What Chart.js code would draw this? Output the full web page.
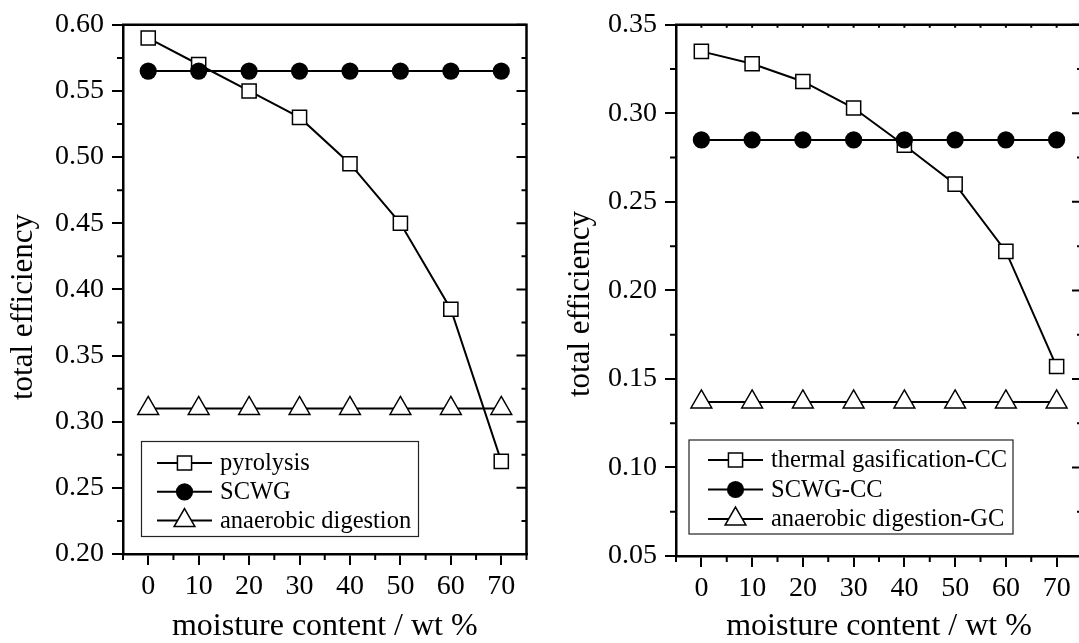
<!DOCTYPE html>
<html>
<head>
<meta charset="utf-8">
<title>total efficiency vs moisture content</title>
<script src="https://cdn.jsdelivr.net/npm/chart.js@4.4.0/dist/chart.umd.min.js"></script>
<style>
    html, body { margin: 0; padding: 0; background: #fff; overflow: hidden; }
    #wrap { position: relative; width: 1079px; height: 643px; overflow: hidden; }
    #left { position: absolute; left: 0; top: 0; }
    #right { position: absolute; left: 540px; top: 0; }
</style>
</head>
<body>
<div id="wrap">
    <canvas id="left" width="540" height="643"></canvas>
    <canvas id="right" width="560" height="643"></canvas>
</div>
<script>
const moisture = [0, 10, 20, 30, 40, 50, 60, 70];

// left panel
const pyrolysis = [0.590, 0.570, 0.550, 0.530, 0.495, 0.450, 0.385, 0.270];
const scwg = [0.565, 0.565, 0.565, 0.565, 0.565, 0.565, 0.565, 0.565];
const anaerobic = [0.310, 0.310, 0.310, 0.310, 0.310, 0.310, 0.310, 0.310];

// right panel
const thermalCC = [0.335, 0.328, 0.318, 0.303, 0.282, 0.260, 0.222, 0.157];
const scwgCC = [0.285, 0.285, 0.285, 0.285, 0.285, 0.285, 0.285, 0.285];
const anaerobicGC = [0.137, 0.137, 0.137, 0.137, 0.137, 0.137, 0.137, 0.137];

// axis ticks
const xTicks = [0, 10, 20, 30, 40, 50, 60, 70];
const xMinor = [-5, 5, 15, 25, 35, 45, 55, 65, 75];
const leftYTicks = [0.20, 0.25, 0.30, 0.35, 0.40, 0.45, 0.50, 0.55, 0.60];
const leftYMinor = [0.225, 0.275, 0.325, 0.375, 0.425, 0.475, 0.525, 0.575];
const rightYTicks = [0.05, 0.10, 0.15, 0.20, 0.25, 0.30, 0.35];
const rightYMinor = [0.075, 0.125, 0.175, 0.225, 0.275, 0.325];

const serif = '"Liberation Serif", "Times New Roman", serif';
const tickFont = { family: serif, size: 28 };
const titleFont = { family: serif, size: 32, lineHeight: 1 };

function toPoints(ys) {
    return moisture.map((m, i) => ({ x: m, y: ys[i] }));
}

function squareSet(label, ys) {
    return {
        label: label, data: toPoints(ys), order: 2,
        borderColor: '#000', borderWidth: 2,
        pointStyle: 'rect', pointRadius: 10, pointBorderWidth: 1.5,
        pointBackgroundColor: '#fff', pointBorderColor: '#000'
    };
}

function circleSet(label, ys) {
    return {
        label: label, data: toPoints(ys), order: 0,
        borderColor: '#000', borderWidth: 2,
        pointStyle: 'circle', pointRadius: 8.6, pointBorderWidth: 0,
        pointBackgroundColor: '#000', pointBorderColor: '#000'
    };
}

function triangleSet(label, ys) {
    return {
        label: label, data: toPoints(ys), order: 1,
        borderColor: '#000', borderWidth: 2,
        pointStyle: 'triangle', pointRadius: 12, pointBorderWidth: 1.5,
        pointBackgroundColor: '#fff', pointBorderColor: '#000'
    };
}

// frame, minor ticks, y title and boxed legend
const framePlugin = {
    id: 'frame',
    afterDraw(chart, args, o) {
        const { ctx, chartArea: a } = chart;
        const x = chart.scales.x, y = chart.scales.y;
        ctx.save();
        ctx.strokeStyle = '#000';
        ctx.lineWidth = 2.5;
        ctx.beginPath();
        ctx.moveTo(a.left - 1, a.top);
        ctx.lineTo(a.right, a.top);
        ctx.lineTo(a.right, a.bottom + 1);
        ctx.stroke();

        ctx.lineWidth = 2;
        ctx.beginPath();
        o.minorX.forEach(v => {
            const px = x.getPixelForValue(v);
            ctx.moveTo(px, a.bottom);
            ctx.lineTo(px, a.bottom + 6);
        });
        o.minorY.forEach(v => {
            const py = y.getPixelForValue(v);
            ctx.moveTo(a.left, py);
            ctx.lineTo(a.left - 6, py);
            ctx.moveTo(a.right, py);
            ctx.lineTo(a.right - 5, py);
        });
        o.majorY.forEach(v => {
            const py = y.getPixelForValue(v);
            ctx.moveTo(a.right, py);
            ctx.lineTo(a.right - 10, py);
        });
        if (o.topTicks) {
            xTicks.concat(xMinor).forEach(v => {
                const px = x.getPixelForValue(v);
                ctx.moveTo(px, a.top);
                ctx.lineTo(px, a.top + 3);
            });
        }
        ctx.stroke();

        // y axis title
        ctx.fillStyle = '#000';
        ctx.font = '31px ' + serif;
        ctx.textAlign = 'center';
        ctx.textBaseline = 'middle';
        ctx.save();
        ctx.translate(o.yTitleX, o.yTitleY);
        ctx.rotate(-Math.PI / 2);
        ctx.fillText(o.yTitle, 0, 0);
        ctx.restore();

        // legend
        const L = o.legend;
        ctx.lineWidth = 1.2;
        ctx.strokeStyle = '#222';
        ctx.strokeRect(L.x, L.y, L.w, L.h);
        ctx.font = '24.5px ' + serif;
        ctx.textAlign = 'left';
        chart.data.datasets.forEach((d, i) => {
            const cy = L.row0 + i * L.gap;
            ctx.strokeStyle = '#000';
            ctx.lineWidth = 2;
            ctx.beginPath();
            ctx.moveTo(L.line0, cy);
            ctx.lineTo(L.line1, cy);
            ctx.stroke();
            ctx.fillStyle = d.pointBackgroundColor;
            ctx.strokeStyle = d.pointBorderColor;
            ctx.lineWidth = d.pointBorderWidth;
            Chart.helpers.drawPoint(ctx, {
                pointStyle: d.pointStyle, radius: d.pointRadius,
                borderWidth: d.pointBorderWidth, rotation: 0
            }, (L.line0 + L.line1) / 2, cy);
            ctx.fillStyle = '#000';
            ctx.fillText(d.label, L.text, cy + 1);
        });
        ctx.restore();
    }
};

function axisStyle() {
    return {
        grid: { drawOnChartArea: false, drawTicks: true, tickLength: 11, color: '#000', lineWidth: 2 },
        border: { display: true, color: '#000', width: 2.5 }
    };
}

function makeOptions(p) {
    return {
        responsive: false,
        animation: false,
        layout: { padding: { left: 0, right: p.padRight, top: p.padTop, bottom: 0 } },
        scales: {
            x: {
                type: 'linear', min: -5, max: 75,
                afterBuildTicks: s => { s.ticks = xTicks.map(v => ({ value: v })); },
                afterFit: s => { s.height = p.xHeight; },
                ...axisStyle(),
                ticks: { color: '#000', font: tickFont, padding: 5, maxRotation: 0, autoSkip: false },
                title: { display: true, text: 'moisture content / wt %', color: '#000', font: titleFont, padding: { top: 0, bottom: 0 } }
            },
            y: {
                type: 'linear', min: p.yTicks[0], max: p.yTicks[p.yTicks.length - 1],
                afterBuildTicks: s => { s.ticks = p.yTicks.map(v => ({ value: v })); },
                afterFit: s => { s.width = p.yWidth; },
                ...axisStyle(),
                ticks: { color: '#000', font: tickFont, padding: 8, callback: v => v.toFixed(2) }
            }
        },
        plugins: {
            legend: { display: false },
            tooltip: { enabled: false },
            frame: {
                minorX: xMinor, minorY: p.yMinor, majorY: p.yTicks, topTicks: p.topTicks,
                yTitle: 'total efficiency', yTitleX: p.yTitleX, yTitleY: p.yTitleY,
                legend: p.legend
            }
        }
    };
}

new Chart(document.getElementById('left'), {
    type: 'line',
    data: {
        datasets: [
            squareSet('pyrolysis', pyrolysis),
            circleSet('SCWG', scwg),
            triangleSet('anaerobic digestion', anaerobic)
        ]
    },
    options: makeOptions({
        padRight: 13, padTop: 21, xHeight: 89, yWidth: 123,
        yTicks: leftYTicks, yMinor: leftYMinor, topTicks: false,
        yTitleX: 24, yTitleY: 307,
        legend: { x: 141.5, y: 441.5, w: 277, h: 95, row0: 463, gap: 28.8, line0: 157, line1: 212, text: 220 }
    }),
    plugins: [framePlugin]
});

new Chart(document.getElementById('right'), {
    type: 'line',
    data: {
        datasets: [
            squareSet('thermal gasification-CC', thermalCC),
            circleSet('SCWG-CC', scwgCC),
            triangleSet('anaerobic digestion-GC', anaerobicGC)
        ]
    },
    options: makeOptions({
        padRight: 18, padTop: 20, xHeight: 87, yWidth: 136,
        yTicks: rightYTicks, yMinor: rightYMinor, topTicks: true,
        yTitleX: 41, yTitleY: 304,
        legend: { x: 149, y: 440, w: 324, h: 94, row0: 460, gap: 29.5, line0: 168, line1: 223, text: 231 }
    }),
    plugins: [framePlugin]
});
</script>
</body>
</html>
